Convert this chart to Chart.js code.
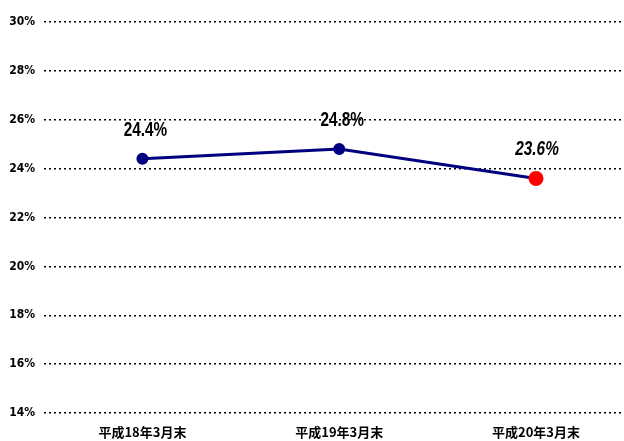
<!DOCTYPE html>
<html>
<head>
<meta charset="utf-8">
<script src="https://cdn.jsdelivr.net/npm/chart.js@4/dist/chart.umd.min.js"></script>
<style>
  html, body { margin: 0; padding: 0; background: #fff; overflow: hidden; }
  #wrap { width: 624px; height: 441px; }
</style>
</head>
<body>
<div id="wrap"><canvas id="rateChart"></canvas></div>
<script>
const categories = ['平成18年3月末', '平成19年3月末', '平成20年3月末'];
const rates = [24.4, 24.8, 23.6];
const pointLabels = ['24.4%', '24.8%', '23.6%'];
const yTicks = [14, 16, 18, 20, 22, 24, 26, 28, 30];

// value labels above each point, squeezed to look like a narrow face; last one italic
const valueLabels = {
    id: 'valueLabels',
    afterDatasetsDraw(chart) {
        const meta = chart.getDatasetMeta(0);
        const ctx = chart.ctx;
        meta.data.forEach((pt, i) => {
            const last = i === meta.data.length - 1;
            ctx.save();
            ctx.translate(pt.x + (last ? 1 : 3), pt.y - 29);
            ctx.scale(0.73, 1);
            ctx.fillStyle = '#000';
            ctx.textAlign = 'center';
            ctx.textBaseline = 'middle';
            ctx.font = (last ? 'italic ' : '') + "bold 21px 'Liberation Sans', sans-serif";
            ctx.fillText(pointLabels[i], 0, 0);
            ctx.restore();
        });
    }
};

const chart = new Chart(document.getElementById('rateChart'), {
    type: 'line',
    data: {
        datasets: [{
            data: rates.map((v, i) => ({ x: i, y: v })),
            borderColor: '#000080',
            borderWidth: 3,
            pointBackgroundColor: rates.map((v, i) => i === rates.length - 1 ? '#ff0000' : '#000080'),
            pointBorderColor: rates.map((v, i) => i === rates.length - 1 ? '#ff0000' : '#000080'),
            pointRadius: rates.map((v, i) => i === rates.length - 1 ? 6 : 4.5),
            tension: 0
        }]
    },
    options: {
        responsive: true,
        maintainAspectRatio: false,
        animation: false,
        layout: { padding: { top: 22, right: 0, left: 0, bottom: 0 } },
        plugins: {
            legend: { display: false },
            tooltip: { enabled: false }
        },
        scales: {
            x: {
                type: 'linear',
                bounds: 'data',
                min: -0.5,
                max: 2.447,
                afterBuildTicks(scale) {
                    scale.ticks = categories.map((c, i) => ({ value: i }));
                },
                afterFit(scale) {
                    scale.height = 28;
                    scale.paddingLeft = 0;
                    scale.paddingRight = 0;
                },
                grid: { display: false },
                border: { display: false },
                ticks: {
                    color: '#000',
                    padding: 3,
                    autoSkip: false,
                    maxRotation: 0,
                    font: { family: "'Noto Sans CJK JP', sans-serif", weight: 'bold', size: 13 },
                    callback: (v) => categories[v]
                }
            },
            y: {
                min: 14,
                max: 30,
                afterBuildTicks(scale) {
                    scale.ticks = yTicks.map(v => ({ value: v }));
                },
                afterFit(scale) {
                    scale.width = 44;
                    scale.paddingLeft = 0;
                    scale.paddingRight = 0;
                },
                grid: {
                    color: '#000',
                    lineWidth: 1.5,
                    drawTicks: false
                },
                border: { display: false, dash: [2, 3] },
                ticks: {
                    color: '#000',
                    padding: 9,
                    font: { family: "'DejaVu Sans Condensed', 'Liberation Sans', sans-serif", weight: 'bold', size: 12 },
                    callback: (v) => v + '%'
                }
            }
        }
    },
    plugins: [valueLabels]
});

// stretch the canvas past the window edge so the plot area reaches x=624
const gap = 624 - chart.chartArea.right;
if (gap > 0) {
    document.getElementById('wrap').style.width = (624 + gap) + 'px';
    chart.resize(624 + gap, 441);
}
</script>
</body>
</html>
